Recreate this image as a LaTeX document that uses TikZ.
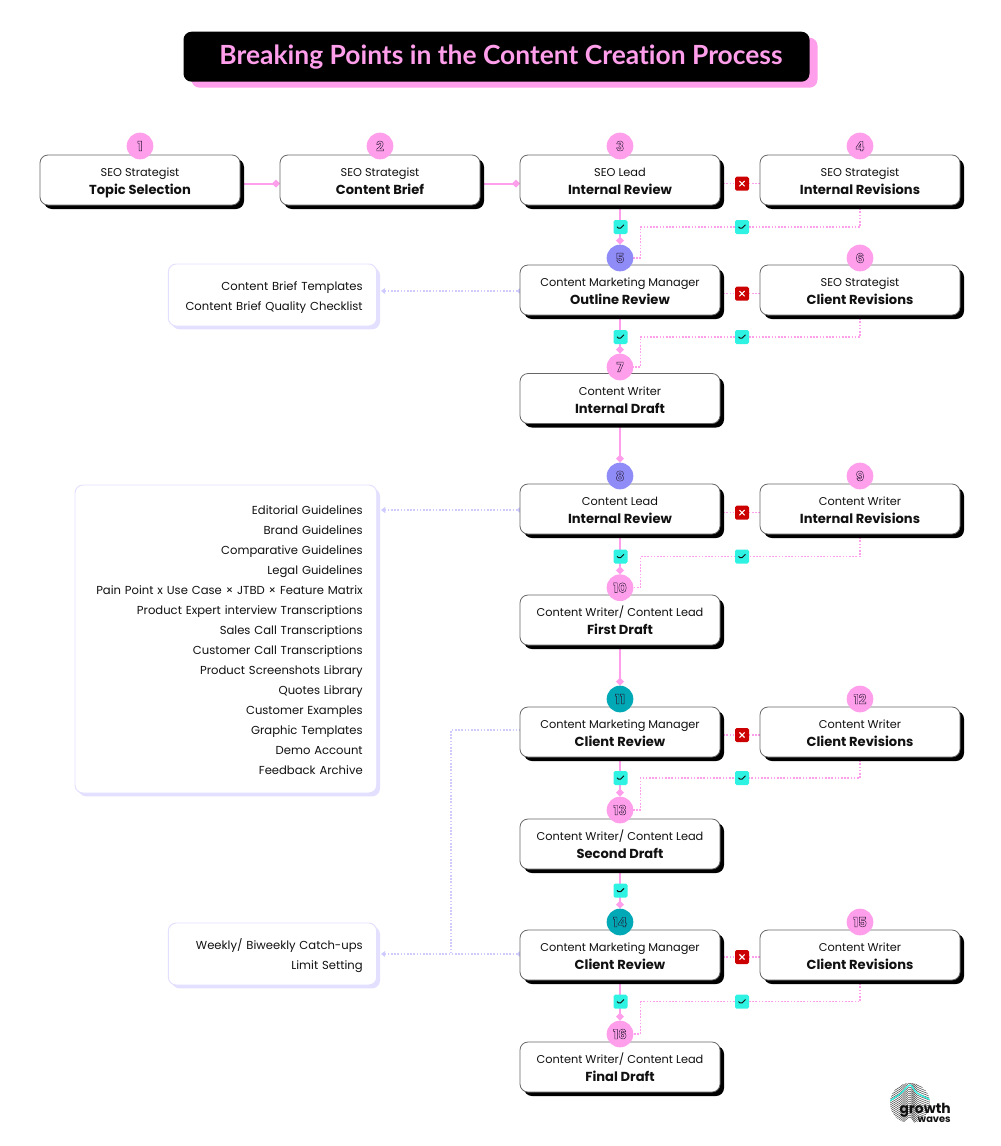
\documentclass[tikz,border=0pt]{standalone}
\usepackage{fontspec}
\setmainfont{Poppins}
\newfontfamily\titlefont[Ligatures=NoCommon]{Lato}
\usetikzlibrary{shadows,backgrounds,arrows.meta}
\definecolor{pk}{HTML}{FF9EEA}
\definecolor{lav}{HTML}{CFCBFF}
\definecolor{lavb}{HTML}{E2DFFF}
\definecolor{peri}{HTML}{8F8CF8}
\definecolor{tealc}{HTML}{00A9B5}
\definecolor{cyanc}{HTML}{2EF2E2}
\definecolor{redc}{HTML}{CC0000}
\definecolor{ink}{HTML}{111111}
\newcommand{\outl}[1]{\special{pdf:code 0.15 0.1 0.2 RG 0.3 w 2 Tr}#1\special{pdf:code 0 Tr}}
\newcommand{\stp}[2]{\rule{0pt}{12.85pt}\strut #1\\{\fontsize{9.8}{13.5}\selectfont\bfseries\strut #2}}
\newcommand{\rtop}{\rule{0pt}{12pt}}
\tikzset{
  x=0.75pt,y=-0.75pt,
  stepbox/.style={draw=black!60,line width=0.6pt,fill=white,rounded corners=6pt,minimum width=150pt,minimum height=37.5pt,inner sep=0pt,outer sep=0pt,align=center,text=ink,
    font=\fontsize{8.5}{13.5}\selectfont,
    drop shadow={shadow xshift=3pt,shadow yshift=-3pt,fill=black,opacity=1}},
  resbox/.style={draw=lavb,line width=0.7pt,fill=white,rounded corners=6pt,inner xsep=10.5pt,inner ysep=0pt,outer sep=0pt,align=right,text=ink,
    font=\fontsize{8.7}{15}\selectfont,
    drop shadow={shadow xshift=2.5pt,shadow yshift=-2.5pt,fill=lavb,opacity=1}},
  numc/.style={circle,minimum size=20pt,inner sep=0pt,outer sep=0pt,font=\fontsize{10}{10}\selectfont\bfseries},
  pkc/.style={numc,fill=pk,text=pk},
  perc/.style={numc,fill=peri,text=peri},
  tec/.style={numc,fill=tealc,text=tealc},
  chk/.style={rectangle,rounded corners=1.2pt,minimum size=10.5pt,inner sep=0pt,outer sep=0pt,fill=cyanc,
    path picture={\draw[ink,line width=0.7pt,shift={(path picture bounding box.center)}] (-3.5,-0.2) -- (-1,2.2) -- (3.5,-2.2);}},
  crs/.style={rectangle,rounded corners=1.2pt,minimum size=10.5pt,inner sep=0pt,outer sep=0pt,fill=redc,
    path picture={\draw[white,line width=0.8pt,shift={(path picture bounding box.center)}] (-2.6,-2.6) -- (2.6,2.6) (-2.6,2.6) -- (2.6,-2.6);}},
  flow/.style={pk,line width=1.5pt,-{Diamond[length=6pt,width=6pt,fill=pk]}},
  pdot/.style={pk,line width=1pt,dash pattern=on 1.2pt off 1.2pt},
  ldot/.style={lav,line width=1pt,dash pattern=on 1.2pt off 1.2pt},
  larr/.style={ldot,{Triangle[reversed,length=3.2pt,width=4.5pt,fill=lav]}-{Triangle[length=3.2pt,width=4.5pt,fill=lav]}},
}
\begin{document}
\begin{tikzpicture}
\useasboundingbox (0,0) rectangle (1000,1146);
% title
\node[fill=black,rounded corners=6pt,minimum width=469.5pt,minimum height=37.5pt,inner sep=0pt,text=pk,
  font=\titlefont\fontsize{19.8}{24}\selectfont\bfseries,
  drop shadow={shadow xshift=6pt,shadow yshift=-4.5pt,fill=pk,opacity=1}] (title) at (496.5,56.7) {\hspace*{6.75pt}\raisebox{-0.7pt}{Breaking Points in the Content Creation Process}};
% boxes
\node[stepbox] (b1) at (140,180) {\stp{SEO Strategist}{Topic Selection}};
\node[stepbox] (b2) at (380,180) {\stp{SEO Strategist}{Content Brief}};
\node[stepbox] (b3) at (620,180) {\stp{SEO Lead}{Internal Review}};
\node[stepbox] (b4) at (860,180) {\stp{SEO Strategist}{Internal Revisions}};
\node[stepbox] (b5) at (620,290) {\stp{Content Marketing Manager}{Outline Review}};
\node[stepbox] (b6) at (860,290) {\stp{SEO Strategist}{Client Revisions}};
\node[stepbox] (b7) at (620,398.5) {\stp{Content Writer}{Internal Draft}};
\node[stepbox] (b8) at (620,509) {\stp{Content Lead}{Internal Review}};
\node[stepbox] (b9) at (860,509) {\stp{Content Writer}{Internal Revisions}};
\node[stepbox] (b10) at (620,620) {\stp{Content Writer/ Content Lead}{First Draft}};
\node[stepbox] (b11) at (620,732) {\stp{Content Marketing Manager}{Client Review}};
\node[stepbox] (b12) at (860,732) {\stp{Content Writer}{Client Revisions}};
\node[stepbox] (b13) at (620,844) {\stp{Content Writer/ Content Lead}{Second Draft}};
\node[stepbox] (b14) at (620,955) {\stp{Content Marketing Manager}{Client Review}};
\node[stepbox] (b15) at (860,955) {\stp{Content Writer}{Client Revisions}};
\node[stepbox] (b16) at (620,1067) {\stp{Content Writer/ Content Lead}{Final Draft}};
% resources
\node[resbox,text width=135.3pt,minimum height=46.5pt] (r1) at (272.5,295) {\rtop\strut Content Brief Templates\\Content Brief Quality Checklist\strut};
\node[resbox,text width=205.3pt,minimum height=231pt] (r2) at (225.85,639) {\rtop\strut Editorial Guidelines\\Brand Guidelines\\Comparative Guidelines\\Legal Guidelines\\Pain Point x Use Case × JTBD × Feature Matrix\\Product Expert interview Transcriptions\\Sales Call Transcriptions\\Customer Call Transcriptions\\Product Screenshots Library\\Quotes Library\\Customer Examples\\Graphic Templates\\Demo Account\\Feedback Archive\strut};
\node[resbox,text width=135.3pt,minimum height=46.5pt] (r3) at (272.5,954) {\rtop\strut Weekly/ Biweekly Catch-ups\\Limit Setting\strut};
% number circles
\node[pkc] (c1) at (140,146) {\outl{1}};
\node[pkc] (c2) at (380,146) {\outl{2}};
\node[pkc] (c3) at (620,146) {\outl{3}};
\node[pkc] (c4) at (860,146) {\outl{4}};
\node[perc] (c5) at (620,258) {\outl{5}};
\node[pkc] (c6) at (860,258) {\outl{6}};
\node[pkc] (c7) at (620,367) {\outl{7}};
\node[perc] (c8) at (620,476) {\outl{8}};
\node[pkc] (c9) at (860,476) {\outl{9}};
\node[pkc] (c10) at (620,587.7) {\outl{10}};
\node[tec] (c11) at (620,699) {\outl{11}};
\node[pkc] (c12) at (860,699) {\outl{12}};
\node[pkc] (c13) at (620,810) {\outl{13}};
\node[tec] (c14) at (620,922) {\outl{14}};
\node[pkc] (c15) at (860,922) {\outl{15}};
\node[pkc] (c16) at (620,1034) {\outl{16}};
% badges
\node[chk] (k3) at (620.5,227) {};
\node[chk] (k4) at (742,227) {};
\node[chk] (k5) at (620.5,337) {};
\node[chk] (k6) at (742,337) {};
\node[chk] (k8) at (620.5,556.5) {};
\node[chk] (k9) at (742,556.5) {};
\node[chk] (k11) at (620.5,778) {};
\node[chk] (k12) at (742,778) {};
\node[chk] (k13) at (620.5,890.6) {};
\node[chk] (k14) at (620.5,1001.7) {};
\node[chk] (k15) at (742,1001.7) {};
\node[crs] (x3) at (742,183.7) {};
\node[crs] (x5) at (742,293.7) {};
\node[crs] (x8) at (742,512.7) {};
\node[crs] (x11) at (742,735) {};
\node[crs] (x14) at (742,957) {};
% helper points
\coordinate (h1) at (260,183.7);
\coordinate (m5) at (640.3,227);
\coordinate (m7) at (640.3,337);
\coordinate (m10) at (640.3,556.5);
\coordinate (m13) at (640.3,778);
\coordinate (m16) at (640.3,1001.7);
\coordinate (l5) at (520.5,291);
\coordinate (l8) at (520.5,510);
\coordinate (l14) at (520.5,954);
\coordinate (l11) at (520.5,730);
\coordinate (jn) at (451,954);
\begin{scope}[on background layer]
\draw[flow] (b1.east |- h1) -- (b2.west |- h1);
\draw[flow] (b2.east |- h1) -- (b3.west |- h1);
\draw[flow] (b3.south) -- (c5.north);
\draw[flow] (b5.south) -- (c7.north);
\draw[flow] (b7.south) -- (c8.north);
\draw[flow] (b8.south) -- (c10.north);
\draw[flow] (b10.south) -- (c11.north);
\draw[flow] (b11.south) -- (c13.north);
\draw[flow] (b13.south) -- (c14.north);
\draw[flow] (b14.south) -- (c16.north);
\draw[pdot] (b3.east |- x3) -- (b4.west |- x3);
\draw[pdot] (b5.east |- x5) -- (b6.west |- x5);
\draw[pdot] (b8.east |- x8) -- (b9.west |- x8);
\draw[pdot] (b11.east |- x11) -- (b12.west |- x11);
\draw[pdot] (b14.east |- x14) -- (b15.west |- x14);
\draw[pdot] (b4.south) |- (k4.center) -- (m5) |- (c5.east);
\draw[pdot] (b6.south) |- (k6.center) -- (m7) |- (c7.east);
\draw[pdot] (b9.south) |- (k9.center) -- (m10) |- (c10.east);
\draw[pdot] (b12.south) |- (k12.center) -- (m13) |- (c13.east);
\draw[pdot] (b15.south) |- (k15.center) -- (m16) |- (c16.east);
\draw[larr] (l5) -- ([xshift=3.2pt]r1.east |- l5);
\draw[larr] (l8) -- ([xshift=3.2pt]r2.east |- l8);
\draw[larr] (l14) -- ([xshift=3.2pt]r3.east |- l14);
\draw[ldot] (l11) -| (jn);
\end{scope}
% logo
\begin{scope}
\clip (910,1103) circle (15pt);
\foreach \d in {-20,-18,...,30}{
  \draw[black!70,line width=0.4pt] plot[smooth] coordinates {(885,1104+\d) (900,1095+\d) (910,1087+\d) (917,1095+\d) (935,1102+\d)};
}
\draw[cyanc,line width=0.9pt] plot[smooth] coordinates {(885,1104) (900,1094) (910,1085) (917,1093) (935,1102)};
\end{scope}
\node[inner sep=0pt,text=ink,anchor=base east,font=\fontsize{10.4}{11}\selectfont\bfseries] (lg1) at (951,1113) {growth};
\node[inner sep=0pt,text=ink,anchor=base east,font=\fontsize{7.4}{8}\selectfont\bfseries] (lg2) at (951,1122) {waves};
\end{tikzpicture}
\end{document}
